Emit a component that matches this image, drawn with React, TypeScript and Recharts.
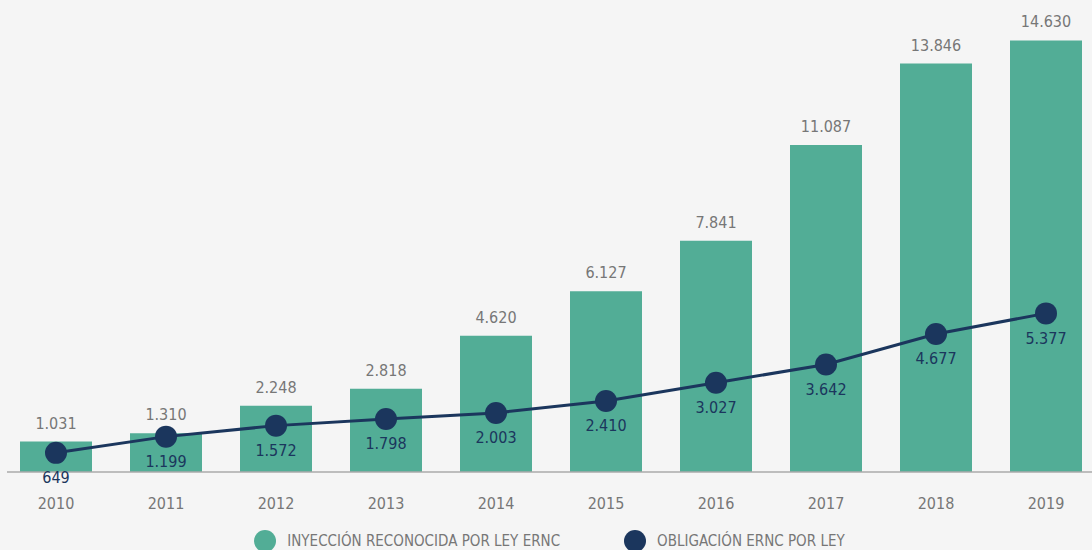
import React from 'react';
import { ComposedChart, Bar, Line, XAxis, YAxis, LabelList, Legend } from 'recharts';

const years = ['2010', '2011', '2012', '2013', '2014', '2015', '2016', '2017', '2018', '2019'];
const injection = [1031, 1310, 2248, 2818, 4620, 6127, 7841, 11087, 13846, 14630];
const obligation = [649, 1199, 1572, 1798, 2003, 2410, 3027, 3642, 4677, 5377];

const TEAL = '#52ad96';
const NAVY = '#1b365d';
const GRAY = '#777777';
const FONT = '"DejaVu Sans Condensed", "Liberation Sans Narrow", sans-serif';

const data = years.map((year, i) => ({
  year,
  injection: injection[i],
  obligation: obligation[i],
}));

// thousands with a dot, as in the source
const fmt = (v: any) => String(v).replace(/\B(?=(\d{3})+(?!\d))/g, '.');

const LegendContent = () => (
  <div style={{ display: 'flex', justifyContent: 'center', gap: 64, fontFamily: FONT, fontSize: 15, color: GRAY }}>
    {[
      { label: 'INYECCIÓN RECONOCIDA POR LEY ERNC', color: TEAL },
      { label: 'OBLIGACIÓN ERNC POR LEY', color: NAVY },
    ].map((item) => (
      <div key={item.label} style={{ display: 'flex', alignItems: 'center' }}>
        <svg width={22} height={22}>
          <circle cx={11} cy={11} r={11} fill={item.color} />
        </svg>
        <span style={{ marginLeft: 11 }}>{item.label}</span>
      </div>
    ))}
  </div>
);

const App: React.FC = () => {
  return (
    <div style={{ position: 'absolute', left: 0, top: 0, width: 1092, height: 550, background: '#f5f5f5', fontFamily: FONT, overflow: 'hidden' }}>
      <ComposedChart width={1092} height={550} data={data} margin={{ top: 0, right: 0, bottom: 0, left: 7 }}>
        <XAxis
          dataKey="year"
          height={58}
          padding={{ left: -6, right: -9 }}
          tickLine={false}
          tickSize={0}
          tickMargin={26}
          axisLine={{ stroke: '#aaaaaa', strokeWidth: 1.5 }}
          tick={{ fill: GRAY, fontSize: 16 }}
        />
        <YAxis hide domain={[0, 16000]} />
        <Legend verticalAlign="bottom" height={20} content={<LegendContent />} />
        <Bar dataKey="injection" fill={TEAL} barSize={72} isAnimationActive={false}>
          <LabelList dataKey="injection" position="top" offset={13} formatter={fmt} fill={GRAY} fontSize={16} />
        </Bar>
        <Line
          dataKey="obligation"
          stroke={NAVY}
          strokeWidth={3}
          dot={{ r: 11, fill: NAVY, stroke: 'none' }}
          activeDot={false}
          isAnimationActive={false}
        >
          <LabelList dataKey="obligation" position="bottom" offset={19} formatter={fmt} fill={NAVY} fontSize={16} />
        </Line>
      </ComposedChart>
    </div>
  );
};

export default App;
